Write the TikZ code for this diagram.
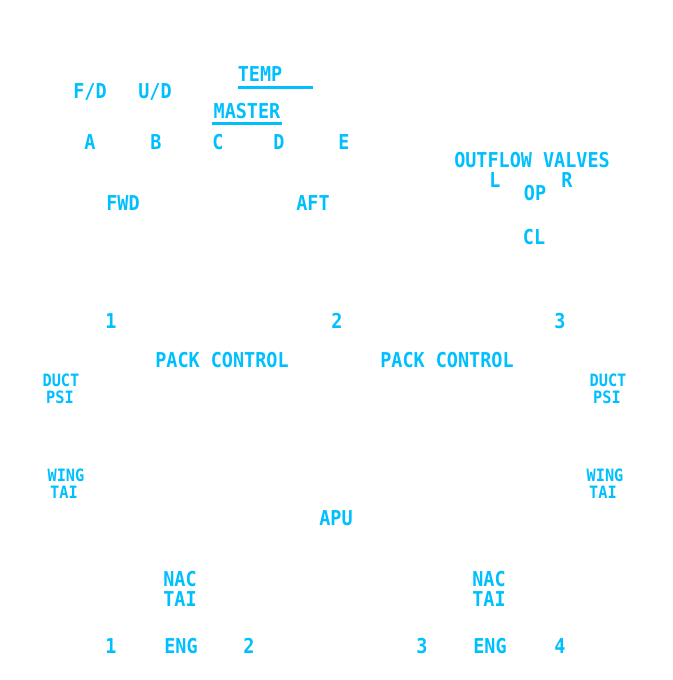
\documentclass[tikz,border=0pt]{standalone}
\usepackage{fontspec}
\newfontfamily\ecamfont[FakeStretch=0.9]{DejaVu Sans Mono}
\definecolor{ecam}{RGB}{0,191,255}
\tikzset{
  lbl/.style={text=ecam, inner sep=0pt, font=\ecamfont\bfseries\fontsize{20.5}{20.5}\selectfont, text height=14.9pt, text depth=0pt},
  sml/.style={text=ecam, inner sep=0pt, font=\ecamfont\bfseries\fontsize{17}{17}\selectfont, text height=12.4pt, text depth=0pt},
  uline/.style={draw=ecam, line width=3pt}
}
\begin{document}
\begin{tikzpicture}[x=1pt,y=-1pt]
\useasboundingbox (0,0) rectangle (672,680);
% top row
\node[lbl] (fd) at (90,91) {F/D};
\node[lbl] (ud) at (155,91) {U/D};
\node[lbl] (temp) at (260,74) {TEMP};
\node[lbl] (master) at (247,111) {MASTER};
\draw[uline] (238,87) -- (313,87);
\draw[uline] (212,123) -- (282,123);
\node[lbl] (a) at (90,142) {A};
\node[lbl] (b) at (156,142) {B};
\node[lbl] (c) at (218,142) {C};
\node[lbl] (d) at (279,142) {D};
\node[lbl] (e) at (344,142) {E};
\node[lbl] (fwd) at (123,203) {FWD};
\node[lbl] (aft) at (313,203) {AFT};
% outflow
\node[lbl] (ofv) at (532,160) {OUTFLOW VALVES};
\node[lbl] (l) at (495,180) {L};
\node[lbl] (r) at (567,180) {R};
\node[lbl] (op) at (535,193) {OP};
\node[lbl] (cl) at (534,237) {CL};
% packs
\node[lbl] (n1) at (111,321) {1};
\node[lbl] (n2) at (337,321) {2};
\node[lbl] (n3) at (560,321) {3};
\node[lbl] (pc1) at (222,360) {PACK CONTROL};
\node[lbl] (pc2) at (447,360) {PACK CONTROL};
% duct / wing
\node[sml] (ductl1) at (61,380) {DUCT};
\node[sml] (ductl2) at (60,397) {PSI};
\node[sml] (ductr1) at (608,380) {DUCT};
\node[sml] (ductr2) at (607,397) {PSI};
\node[sml] (wingl1) at (66,475) {WING};
\node[sml] (wingl2) at (64,492) {TAI};
\node[sml] (wingr1) at (605,475) {WING};
\node[sml] (wingr2) at (603,492) {TAI};
\node[lbl] (apu) at (336,518) {APU};
% nacelles
\node[lbl] (nacl1) at (180,579) {NAC};
\node[lbl] (nacl2) at (180,599) {TAI};
\node[lbl] (nacr1) at (489,579) {NAC};
\node[lbl] (nacr2) at (489,599) {TAI};
% engines
\node[lbl] (e1) at (111,646) {1};
\node[lbl] (engl) at (181,646) {ENG};
\node[lbl] (e2) at (249,646) {2};
\node[lbl] (e3) at (422,646) {3};
\node[lbl] (engr) at (490,646) {ENG};
\node[lbl] (e4) at (560,646) {4};
\end{tikzpicture}
\end{document}
